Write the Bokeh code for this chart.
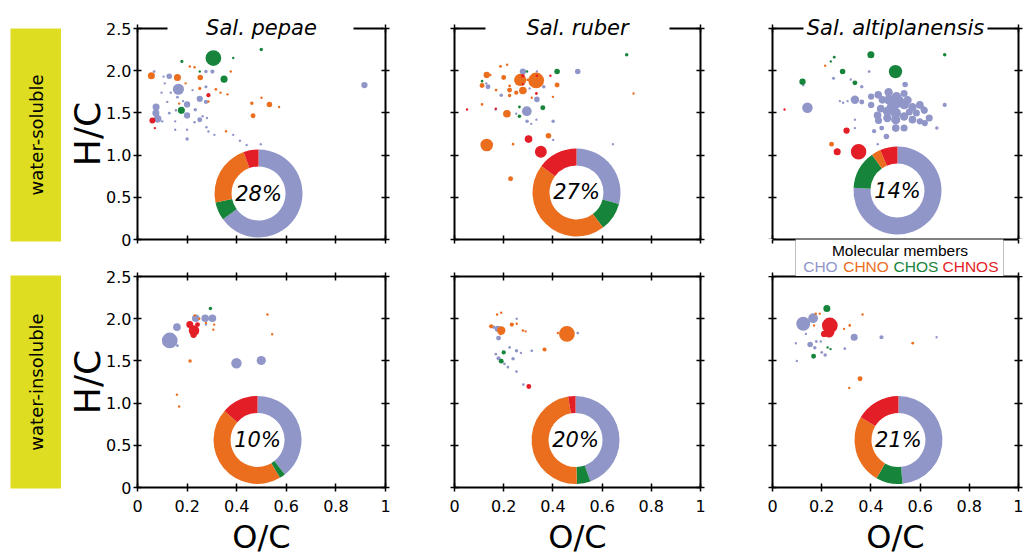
import math
from bokeh.plotting import figure
from bokeh.layouts import row, column
from bokeh.models import Range1d, LinearAxis, FixedTicker, BoxAnnotation, Label, ColumnDataSource
from bokeh.embed import file_html
from bokeh.resources import INLINE
from bokeh.core.properties import value

# ---------------- data ----------------
species = ["Sal. pepae", "Sal. ruber", "Sal. altiplanensis"]
fractions = ["water-soluble", "water-insoluble"]
classes = ["CHO", "CHNO", "CHOS", "CHNOS"]
x_ticks = [0, 0.2, 0.4, 0.6, 0.8, 1.0]
x_tick_labels = ["0", "0.2", "0.4", "0.6", "0.8", "1"]
y_ticks = [0, 0.5, 1.0, 1.5, 2.0, 2.5]
y_tick_labels = ["0", "0.5", "1.0", "1.5", "2.0", "2.5"]

# (O/C, H/C, relative abundance)
pepae_ws_CHO = [(0.165, 1.78, 114), (0.128, 1.935, 28), (0.067, 1.99, 7), (0.105, 1.93, 4), (0.075, 1.57, 45),
                (0.074, 1.50, 45), (0.081, 1.43, 53), (0.2, 1.60, 36), (0.2, 1.47, 36), (0.251, 1.667, 36),
                (0.251, 1.418, 22), (0.276, 1.63, 16), (0.302, 1.99, 16), (0.276, 1.99, 11), (0.276, 1.81, 9),
                (0.233, 1.537, 11), (0.161, 1.686, 7), (0.155, 1.53, 7), (0.128, 1.497, 7), (0.10, 1.40, 4),
                (0.152, 1.40, 4), (0.097, 1.74, 3), (0.134, 1.74, 4), (0.184, 1.64, 3), (0.222, 1.77, 4),
                (0.263, 1.46, 4), (0.28, 1.44, 4), (0.152, 1.30, 3), (0.2, 1.30, 2), (0.2, 1.19, 11),
                (0.278, 1.33, 3), (0.286, 1.28, 2), (0.31, 1.24, 1), (0.386, 1.24, 4), (0.413, 1.17, 3),
                (0.44, 1.12, 3), (0.497, 1.13, 3), (0.11, 1.85, 3), (0.12, 1.63, 2), (0.23, 1.39, 3),
                (0.915, 1.83, 36)]
pepae_ws_CHNO = [(0.056, 1.94, 45), (0.161, 1.92, 45), (0.253, 1.92, 28), (0.211, 2.05, 4), (0.23, 2.04, 3),
                 (0.376, 1.99, 5), (0.194, 1.85, 4), (0.251, 1.79, 9), (0.316, 1.78, 7), (0.335, 1.74, 5),
                 (0.363, 1.72, 3), (0.286, 1.635, 4), (0.461, 1.615, 11), (0.532, 1.60, 28), (0.5, 1.68, 3),
                 (0.571, 1.57, 3), (0.466, 1.466, 22), (0.357, 1.283, 5), (0.168, 1.61, 3)]
pepae_ws_CHOS = [(0.306, 2.15, 225), (0.386, 2.15, 4), (0.499, 2.25, 11), (0.179, 2.11, 9), (0.251, 1.99, 4),
                 (0.349, 1.90, 45), (0.177, 1.53, 45)]
pepae_ws_CHNOS = [(0.286, 1.71, 16), (0.06, 1.41, 32), (0.07, 1.32, 5)]

ruber_ws_CHO = [(0.294, 1.52, 86), (0.278, 1.99, 36), (0.501, 1.99, 28), (0.335, 1.66, 28), (0.136, 1.81, 22),
                (0.19, 1.71, 11), (0.363, 1.81, 11), (0.295, 1.40, 11), (0.401, 1.40, 11), (0.335, 1.99, 4),
                (0.251, 1.49, 4), (0.312, 1.37, 4), (0.333, 1.42, 4), (0.167, 1.54, 3), (0.401, 1.18, 4),
                (0.644, 1.13, 3), (0.129, 1.85, 4), (0.305, 1.79, 4)]
ruber_ws_CHNO = [(0.332, 1.884, 225), (0.267, 1.89, 137), (0.278, 1.765, 53), (0.131, 1.95, 36), (0.2, 1.92, 22),
                 (0.112, 1.825, 22), (0.224, 1.77, 22), (0.251, 1.74, 16), (0.224, 1.82, 7), (0.224, 1.706, 11),
                 (0.169, 1.77, 7), (0.187, 2.05, 7), (0.214, 2.07, 3), (0.417, 1.83, 22), (0.213, 1.49, 53),
                 (0.112, 1.60, 7), (0.131, 1.12, 144), (0.238, 1.13, 7), (0.382, 1.23, 28), (0.228, 0.72, 22),
                 (0.728, 1.73, 2), (0.4, 1.69, 1), (0.314, 1.68, 3), (0.146, 1.95, 4), (0.298, 1.89, 7)]
ruber_ws_CHOS = [(0.417, 1.99, 28), (0.70, 2.19, 11), (0.359, 1.56, 22), (0.112, 1.876, 7), (0.264, 1.57, 7),
                 (0.264, 1.46, 11), (0.295, 1.99, 3)]
ruber_ws_CHNOS = [(0.351, 1.04, 128), (0.301, 1.19, 53), (0.278, 1.94, 11), (0.333, 1.73, 7), (0.335, 1.94, 4),
                  (0.39, 1.94, 4), (0.051, 1.54, 3), (0.168, 1.55, 2), (0.278, 1.84, 3)]

altip_ws_CHO = [(0.142, 1.56, 100), (0.335, 1.655, 64), (0.363, 1.63, 22), (0.401, 1.694, 36), (0.401, 1.595, 36),
                (0.43, 1.714, 53), (0.472, 1.745, 64), (0.447, 1.655, 53), (0.474, 1.655, 86), (0.504, 1.69, 86),
                (0.535, 1.73, 45), (0.501, 1.61, 100), (0.535, 1.60, 86), (0.549, 1.65, 64), (0.569, 1.567, 64),
                (0.599, 1.595, 53), (0.617, 1.53, 45), (0.585, 1.50, 45), (0.637, 1.44, 45), (0.599, 1.40, 36),
                (0.619, 1.38, 36), (0.569, 1.42, 53), (0.535, 1.457, 64), (0.501, 1.50, 100), (0.467, 1.52, 76),
                (0.44, 1.55, 53), (0.427, 1.47, 53), (0.431, 1.41, 45), (0.467, 1.44, 64), (0.501, 1.42, 76),
                (0.501, 1.32, 53), (0.535, 1.32, 45), (0.444, 1.32, 22), (0.413, 1.283, 16), (0.463, 1.22, 28),
                (0.539, 1.836, 28), (0.70, 1.595, 16), (0.668, 1.32, 11), (0.393, 1.99, 7), (0.248, 1.91, 9),
                (0.318, 1.895, 5), (0.363, 1.81, 11), (0.287, 1.62, 4), (0.274, 1.64, 4), (0.305, 1.64, 4),
                (0.335, 1.42, 4), (0.335, 1.32, 4), (0.428, 1.13, 3), (0.125, 1.83, 7), (0.518, 1.65, 53),
                (0.481, 1.57, 64), (0.556, 1.51, 45), (0.612, 1.55, 25)]
altip_ws_CHNO = [(0.214, 2.06, 4), (0.24, 1.13, 22)]
altip_ws_CHOS = [(0.5, 1.99, 161), (0.4, 2.19, 45), (0.70, 2.19, 11), (0.285, 1.99, 28), (0.335, 1.856, 22),
                 (0.122, 1.87, 36), (0.251, 2.16, 7), (0.237, 2.11, 4)]
altip_ws_CHNOS = [(0.35, 1.04, 216), (0.301, 1.29, 36), (0.263, 1.04, 45), (0.049, 1.54, 4)]

pepae_wi_CHO = [(0.13, 1.742, 225), (0.159, 1.90, 53), (0.235, 2.006, 53), (0.273, 2.006, 53), (0.302, 2.006, 53),
                (0.399, 1.473, 100), (0.499, 1.505, 76), (0.276, 1.93, 4), (0.161, 1.68, 7)]
pepae_wi_CHNO = [(0.212, 1.50, 11), (0.249, 1.999, 4), (0.309, 1.93, 4), (0.306, 1.87, 3), (0.276, 1.95, 3),
                 (0.524, 2.05, 3), (0.543, 1.816, 3), (0.159, 1.10, 2), (0.168, 0.96, 2), (0.231, 2.04, 3)]
pepae_wi_CHOS = [(0.294, 2.12, 11)]
pepae_wi_CHNOS = [(0.228, 1.86, 100), (0.211, 1.93, 45), (0.226, 1.81, 36), (0.242, 1.93, 22), (0.218, 1.87, 22)]

ruber_wi_CHO = [(0.179, 1.77, 22), (0.176, 1.88, 36), (0.224, 1.66, 7), (0.252, 1.62, 11), (0.27, 1.595, 5),
                (0.314, 1.62, 7), (0.168, 1.58, 7), (0.179, 1.53, 16), (0.238, 1.525, 11), (0.203, 1.465, 7),
                (0.217, 1.426, 7), (0.252, 1.374, 7), (0.28, 1.22, 7), (0.501, 1.83, 7), (0.253, 2.0, 3),
                (0.16, 1.90, 11)]
ruber_wi_CHNO = [(0.457, 1.82, 225), (0.19, 1.86, 64), (0.149, 1.91, 16), (0.233, 1.93, 16), (0.366, 1.635, 16),
                 (0.173, 2.05, 4), (0.19, 2.07, 3), (0.253, 1.94, 3), (0.278, 1.86, 3), (0.289, 1.85, 2),
                 (0.42, 1.83, 4), (0.187, 1.82, 7)]
ruber_wi_CHOS = [(0.2, 1.60, 16), (0.19, 1.497, 22)]
ruber_wi_CHNOS = [(0.302, 1.197, 22)]

altip_wi_CHO = [(0.125, 1.94, 178), (0.165, 2.006, 86), (0.332, 1.78, 45), (0.443, 1.78, 16), (0.153, 1.694, 28),
                (0.172, 1.655, 11), (0.214, 1.57, 11), (0.2, 1.60, 7), (0.294, 1.645, 7), (0.095, 1.71, 4),
                (0.099, 1.50, 4), (0.178, 1.73, 7), (0.136, 1.82, 3), (0.667, 1.78, 2), (0.196, 1.73, 3)]
altip_wi_CHNO = [(0.356, 1.288, 22), (0.312, 1.18, 5), (0.57, 1.71, 7), (0.366, 2.05, 4), (0.314, 1.92, 7),
                 (0.291, 1.88, 5), (0.176, 2.06, 4), (0.192, 2.06, 3), (0.169, 1.92, 4)]
altip_wi_CHOS = [(0.221, 2.12, 45), (0.167, 1.556, 22), (0.224, 1.66, 4), (0.236, 1.64, 4)]
altip_wi_CHNOS = [(0.233, 1.92, 225), (0.23, 1.84, 100), (0.21, 1.82, 36)]

# donut composition (%) per panel, clockwise from 12 o'clock: CHO, CHOS, CHNO, CHNOS
share_label = ["28%", "27%", "14%", "10%", "20%", "21%"]
share_CHO = [65.0, 29.2, 76.0, 39.3, 44.5, 48.5]
share_CHOS = [6.7, 10.5, 14.2, 2.2, 5.0, 9.8]
share_CHNO = [22.8, 45.6, 3.4, 45.0, 47.8, 25.3]
share_CHNOS = [5.5, 14.7, 6.4, 13.5, 2.7, 16.4]

points = [
    {"CHO": pepae_ws_CHO, "CHNO": pepae_ws_CHNO, "CHOS": pepae_ws_CHOS, "CHNOS": pepae_ws_CHNOS},
    {"CHO": ruber_ws_CHO, "CHNO": ruber_ws_CHNO, "CHOS": ruber_ws_CHOS, "CHNOS": ruber_ws_CHNOS},
    {"CHO": altip_ws_CHO, "CHNO": altip_ws_CHNO, "CHOS": altip_ws_CHOS, "CHNOS": altip_ws_CHNOS},
    {"CHO": pepae_wi_CHO, "CHNO": pepae_wi_CHNO, "CHOS": pepae_wi_CHOS, "CHNOS": pepae_wi_CHNOS},
    {"CHO": ruber_wi_CHO, "CHNO": ruber_wi_CHNO, "CHOS": ruber_wi_CHOS, "CHNOS": ruber_wi_CHNOS},
    {"CHO": altip_wi_CHO, "CHNO": altip_wi_CHNO, "CHOS": altip_wi_CHOS, "CHNOS": altip_wi_CHNOS},
]

# ---------------- styling / layout ----------------
COL = {"CHO": "#9196C9", "CHNO": "#EB6E1E", "CHOS": "#16843A", "CHNOS": "#E31E26"}
YELLOW = "#DEDD22"
FONT = "DejaVu Sans"
LFONT = "Liberation Sans"
FH = 211
FW = [248, 246, 246]
MB_L = [76, 39, 37]
MB_R = [30, 35, 5]
# (top, bottom) borders per row / column
MB_T = [[28, 28, 28], [21, 21, 0]]
MB_B = [[16, 16, 0], [73, 73, 73]]
DASH = ["30 186", "31 184", "31 184"]
INSET = [(0.488, 0.545), (0.496, 0.557), (0.508, 0.58), (0.484, 0.563), (0.492, 0.563), (0.512, 0.563)]


def style_axis(ax, ticks, labels=None, t_in=4, t_out=4):
    ax.ticker = FixedTicker(ticks=ticks)
    ax.axis_line_width = 2
    ax.axis_line_color = "black"
    ax.major_tick_line_width = 1.5
    ax.major_tick_line_color = "black"
    ax.major_tick_in = t_in
    ax.major_tick_out = t_out
    ax.minor_tick_line_color = None
    if labels is not None:
        ax.major_label_overrides = {t: l for t, l in zip(ticks, labels)}
        ax.major_label_text_font = FONT
        ax.major_label_text_font_size = "16px"
        ax.major_label_text_color = "black"
    else:
        ax.major_label_text_font_size = "0px"
        ax.major_label_text_color = None
        ax.major_label_standoff = 0


def base_fig(fw, fh, ml, mr, mt, mb, xr=(0, 1), yr=(0, 2.5)):
    p = figure(frame_width=fw, frame_height=fh, x_range=Range1d(*xr), y_range=Range1d(*yr),
               min_border_left=ml, min_border_right=mr, min_border_top=mt, min_border_bottom=mb,
               x_axis_location=None, y_axis_location=None, toolbar_location=None,
               output_backend="svg", title=None)
    p.outline_line_color = None
    p.background_fill_color = "white"
    p.border_fill_color = "white"
    p.grid.visible = False
    return p


def panel(r, c):
    idx = r * 3 + c
    fw = FW[c]
    p = base_fig(fw, FH, MB_L[c], MB_R[c], MB_T[r][c], MB_B[r][c])

    # left
    left = LinearAxis()
    style_axis(left, y_ticks, y_tick_labels if c == 0 else None)
    if c == 0:
        left.axis_label = "H/C"
        left.axis_label_text_font = FONT
        left.axis_label_text_font_size = "36px"
        left.axis_label_text_font_style = "normal"
        left.axis_label_text_color = "black"
        left.major_label_standoff = 2
        left.axis_label_standoff = -5
    p.add_layout(left, "left")
    # right
    right = LinearAxis()
    style_axis(right, y_ticks)
    p.add_layout(right, "right")
    # bottom
    below = LinearAxis()
    if r == 1:
        style_axis(below, x_ticks, x_tick_labels)
        below.major_label_standoff = 8
        below.axis_label = "O/C"
        below.axis_label_text_font = FONT
        below.axis_label_text_font_size = "32px"
        below.axis_label_text_font_style = "normal"
        below.axis_label_text_color = "black"
        below.axis_label_standoff = 3
    elif c == 2:
        style_axis(below, [0, 1.0], t_in=4, t_out=0)
    else:
        style_axis(below, x_ticks)
    p.add_layout(below, "below")
    # top
    above = LinearAxis()
    if r == 0:
        style_axis(above, [0, 1.0])
        above.axis_line_dash = DASH[c]
        above.axis_label = species[c]
        above.axis_label_text_font = FONT
        above.axis_label_text_font_style = "italic"
        above.axis_label_text_font_size = "21px"
        above.axis_label_text_color = "black"
        above.axis_label_standoff = -15
    elif c == 2:
        style_axis(above, [0, 1.0], t_in=4, t_out=0)
    else:
        style_axis(above, x_ticks)
    p.add_layout(above, "above")

    # van Krevelen points
    for cls in classes:
        pts = points[idx][cls]
        src = ColumnDataSource(dict(
            oc=[q[0] for q in pts], hc=[q[1] for q in pts],
            size=[max(2.4, 1.05 * math.sqrt(q[2])) for q in pts]))
        p.scatter("oc", "hc", size="size", source=src, fill_color=COL[cls], line_color=None)

    # donut inset
    cx, cy = INSET[idx]
    fr = [share_CHO[idx], share_CHOS[idx], share_CHNO[idx], share_CHNOS[idx]]
    cols = [COL["CHO"], COL["CHOS"], COL["CHNO"], COL["CHNOS"]]
    tot = sum(fr)
    cum = 0.0
    starts, ends = [], []
    for f in fr:
        c0 = cum / tot
        cum += f
        c1 = cum / tot
        starts.append(math.pi / 2 - 2 * math.pi * c1)
        ends.append(math.pi / 2 - 2 * math.pi * c0)
    dsrc = ColumnDataSource(dict(x=[cx] * 4, y=[cy] * 4, s=starts, e=ends, color=cols))
    p.annular_wedge(x="x", y="y", inner_radius=27, outer_radius=44,
                    inner_radius_units="screen", outer_radius_units="screen",
                    start_angle="s", end_angle="e", fill_color="color", line_color=None, source=dsrc)
    p.text(x=[cx], y=[cy], text=[share_label[idx]], text_font=value(FONT), text_font_style="italic",
           text_font_size="21px", text_align="center", text_baseline="middle", text_color="black")
    return p


def legend_strip():
    # strip between the two right-hand panels that carries the legend box
    fw = FW[2]
    p = base_fig(fw, 37, MB_L[2], MB_R[2], 0, 0, yr=(0, 1))
    top = LinearAxis()
    style_axis(top, [0, 1.0], t_in=4, t_out=0)
    p.add_layout(top, "above")
    bot = LinearAxis()
    style_axis(bot, [0, 1.0], t_in=4, t_out=0)
    p.add_layout(bot, "below")
    p.add_layout(BoxAnnotation(left=23 / fw, right=231 / fw, bottom=-1, top=2,
                               fill_color="white", fill_alpha=1.0, line_color="#333333", line_width=1))
    p.add_layout(Label(x=127.5 / fw, y=0.69, text="Molecular members", text_align="center",
                       text_baseline="middle", text_font=LFONT, text_font_size="15.5px", text_color="black"))
    xs = [30.7, 70.7, 121.0, 170.0]
    for cls, xo in zip(classes, xs):
        p.add_layout(Label(x=xo / fw, y=0.27, text=cls, text_align="left", text_baseline="middle",
                           text_font=LFONT, text_font_size="15.5px", text_color=COL[cls]))
    return p


def row_label(r):
    p = base_fig(51, 213, 10, 0, [28, 20][r], [14, 72][r], yr=(0, 1))
    p.background_fill_color = YELLOW
    p.add_layout(Label(x=0.5, y=0.5, text=fractions[r], angle=math.pi / 2, text_align="center",
                       text_baseline="middle", text_font=FONT, text_font_size="18px", text_color="black"))
    return p


layout = row(
    column(row_label(0), row_label(1)),
    column(panel(0, 0), panel(1, 0)),
    column(panel(0, 1), panel(1, 1)),
    column(panel(0, 2), legend_strip(), panel(1, 2)),
)

open("out.html", "w").write(file_html(layout, INLINE))
